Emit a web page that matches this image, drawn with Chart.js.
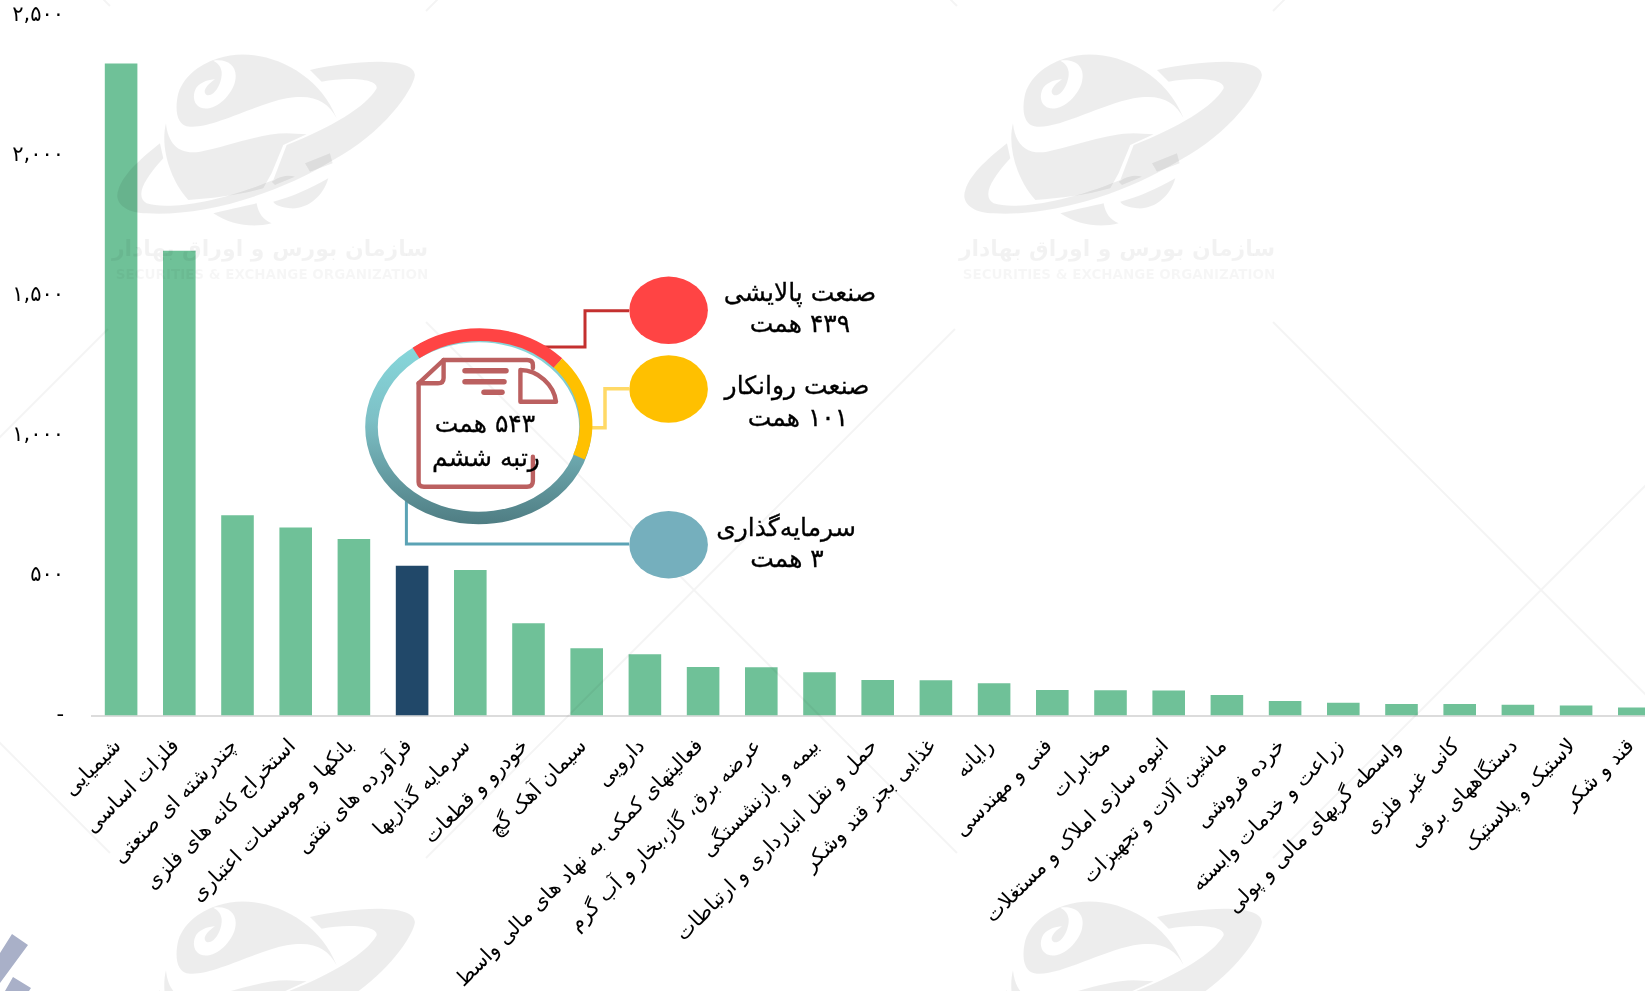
<!DOCTYPE html>
<html lang="fa">
<head>
<meta charset="utf-8">
<title>صنعت</title>
<script src="https://cdn.jsdelivr.net/npm/chart.js@4"></script>
<style>
html,body{margin:0;padding:0;background:#fff;width:1645px;height:991px;overflow:hidden}
#wrap{position:relative;width:1645px;height:991px;overflow:hidden}
canvas{position:absolute;left:0;top:0}
svg{position:absolute;left:0;top:0;pointer-events:none}
svg text{font-family:"DejaVu Sans";text-anchor:middle;direction:rtl;fill:#000}
</style>
</head>
<body>
<div id="wrap">
<canvas id="c" width="1680" height="991" style="width:1680px;height:991px"></canvas>
<svg id="o" width="1645" height="991" viewBox="0 0 1645 991" xmlns="http://www.w3.org/2000/svg">
<defs>
<linearGradient id="ringGrad" gradientUnits="userSpaceOnUse" x1="0" y1="350" x2="0" y2="524">
<stop offset="0" stop-color="#86d6da"/><stop offset="0.4" stop-color="#7dc0c6"/><stop offset="1" stop-color="#4f7d83"/>
</linearGradient>
<g id="logo" transform="scale(0.3333)">
<path fill-rule="evenodd" d="M655 175C770 135 950 200 1010 355C985 305 940 280 860 295C760 315 640 385 570 380C525 378 525 320 535 280C555 220 610 190 655 175ZM640 182C690 175 715 205 705 245C695 285 650 330 610 325C580 320 575 285 590 262C605 245 625 240 645 238C620 255 605 275 620 285C645 292 668 245 665 215C662 195 650 188 640 182Z"/>
<path d="M498 370C505 440 545 465 600 455C680 440 780 400 860 400L920 403L850 435L815 520L790 565C720 585 640 595 565 600C510 540 480 440 498 370Z"/>
<path d="M480 430L490 475C430 540 405 590 440 610C500 630 650 610 820 540L860 435C990 385 1100 320 1130 265C1135 235 1040 230 965 245L930 210C1040 185 1240 165 1245 225C1240 270 1150 400 1000 480C820 590 600 650 440 640C380 640 340 610 355 570C370 520 430 470 480 430Z"/>
<path d="M815 545C845 525 870 525 885 530L825 555Z"/>
<path d="M915 490L990 460L998 490L930 515Z"/>
<path d="M640 640C700 625 750 615 770 610C775 640 790 660 815 670C760 685 690 675 640 640Z"/>
<path d="M820 605C880 590 930 565 985 535C970 590 920 630 870 625C840 620 825 615 820 605Z"/>
</g>
<g id="tile">
<use href="#logo" x="0" y="0" fill="rgba(0,0,0,0.07)"/>
<text x="270" y="256" font-size="22" style="font-weight:bold;fill:rgba(0,0,0,0.05)">سازمان بورس و اوراق بهادار</text>
<text x="272" y="279" font-size="13.5" style="font-weight:bold;fill:rgba(0,0,0,0.035);direction:ltr">SECURITIES &amp; EXCHANGE ORGANIZATION</text>
<path d="M426 322L957 853M955 329L426 858" stroke="rgba(0,0,0,0.045)" stroke-width="2" fill="none"/>
</g>
</defs>
<use href="#tile" x="-847" y="-847"/><use href="#tile" x="0" y="-847"/><use href="#tile" x="847" y="-847"/>
<use href="#tile" x="-847" y="0"/><use href="#tile" x="0" y="0"/><use href="#tile" x="847" y="0"/>
<use href="#tile" x="0" y="847"/><use href="#tile" x="847" y="847"/>
<path d="M12 934L28 945L0 983L0 953Z M13 977L31 988L29 991L5 991Z" fill="#a9b0c8"/>
<path d="M629 310.7H585V347H542" stroke="#c4302f" stroke-width="3" fill="none"/>
<path d="M629 388.7H605V427.7H590" stroke="#ffd966" stroke-width="3.5" fill="none"/>
<path d="M629 544H406.4V501" stroke="#5ba3b5" stroke-width="3" fill="none"/>
<ellipse cx="668.6" cy="310.3" rx="39.3" ry="33.7" fill="#ff4444"/>
<ellipse cx="668.6" cy="389" rx="39.3" ry="33.7" fill="#ffc000"/>
<ellipse cx="668.6" cy="544.7" rx="39.3" ry="33.7" fill="#75afbd"/>
<ellipse cx="478.5" cy="427" rx="107" ry="91" fill="none" stroke="url(#ringGrad)" stroke-width="12.6"/>
<path d="M416 353A107 91 0 0 1 558 363" fill="none" stroke="#ff4444" stroke-width="12.6"/>
<path d="M558 363A107 91 0 0 1 579 457" fill="none" stroke="#ffc000" stroke-width="12.6"/>
<g fill="none" stroke="#bb6060" stroke-width="4.4" stroke-linejoin="round" stroke-linecap="round">
<path d="M532.9 368V365Q532.9 360 527 360H443.6L418.6 383.3V482Q418.6 486.7 424 486.7H527Q532.9 486.7 532.9 481V456.7"/>
<path d="M443.6 360V378Q443.6 383.3 438 383.3H418.6"/>
<path d="M520.4 370V401.7H556C554 385 538 370 520.4 370Z"/>
<path d="M465 370.7H506" stroke-width="5.5"/><path d="M465 381.7H504" stroke-width="5.5"/><path d="M484 392.3H502" stroke-width="5.5"/>
</g>
<g font-size="25" style="stroke:#000;stroke-width:0.3">
<text x="485" y="432">۵۴۳ همت</text>
<text x="486" y="466">رتبه ششم</text>
<text x="800" y="301">صنعت پالایشی</text>
<text x="800" y="332">۴۳۹ همت</text>
<text x="797" y="394">صنعت روانکار</text>
<text x="798" y="426">۱۰۱ همت</text>
<text x="786" y="536">سرمایه‌گذاری</text>
<text x="787" y="567">۳ همت</text>
</g>
</svg>
</div>
<script>
const categories = ["شیمیایی","فلزات اساسی","چندرشته ای صنعتی","استخراج کانه های فلزی","بانکها و موسسات اعتباری","فرآورده های نفتی","سرمایه گذاریها","خودرو و قطعات","سیمان آهک گچ","دارویی","فعالیتهای کمکی به نهاد های مالی واسط","عرضه برق، گاز،بخار و آب گرم","بیمه و بازنشستگی","حمل و نقل انبارداری و ارتباطات","غذایی بجز قند وشکر","رایانه","فنی و مهندسی","مخابرات","انبوه سازی املاک و مستغلات","ماشین آلات و تجهیزات","خرده فروشی","زراعت و خدمات وابسته","واسطه گریهای مالی و پولی","کانی غیر فلزی","دستگاههای برقی","لاستیک و پلاستیک","قند و شکر"];
const values = [2330,1661,716,672,631,535,520,330,240,219,173,172,155,127,126,115,91,90,89,73,52,46,41,41,38,36,29];
const yTickLabels = ["-","۵۰۰","۱,۰۰۰","۱,۵۰۰","۲,۰۰۰","۲,۵۰۰"];
const barGreen = "#6fc198";
const barHighlight = "#214869";
const highlightCategory = "فرآورده های نفتی";

new Chart(document.getElementById("c"), {
  type: "bar",
  data: {
    labels: categories,
    datasets: [{
      data: values,
      backgroundColor: categories.map(c => c === highlightCategory ? barHighlight : barGreen),
      barPercentage: 0.56,
      categoryPercentage: 1
    }]
  },
  options: {
    responsive: false,
    animation: false,
    layout: { padding: { top: 16, right: 16.6, left: 0, bottom: 0 } },
    plugins: { legend: { display: false }, tooltip: { enabled: false } },
    scales: {
      x: {
        grid: { display: false, drawTicks: false },
        border: { display: true, color: "#dcdcdc", width: 2 },
        ticks: {
          autoSkip: false, minRotation: 45, maxRotation: 45, padding: 19, labelOffset: -3,
          color: "#000", font: { family: "DejaVu Sans", size: 20.6 }
        },
        afterFit(s) { s.height = 275.5; s.paddingLeft = 0; s.paddingRight = 0; s.paddingTop = 0; s.paddingBottom = 0; }
      },
      y: {
        min: 0, max: 2500,
        grid: { display: false, drawTicks: false },
        border: { display: false },
        ticks: {
          stepSize: 500, padding: 28, color: "#000",
          font: { family: "DejaVu Sans", size: 21 },
          callback: (v, i) => yTickLabels[i]
        },
        afterFit(s) { s.width = 92; s.paddingTop = 0; s.paddingBottom = 0; }
      }
    }
  }
});
</script>
</body>
</html>
